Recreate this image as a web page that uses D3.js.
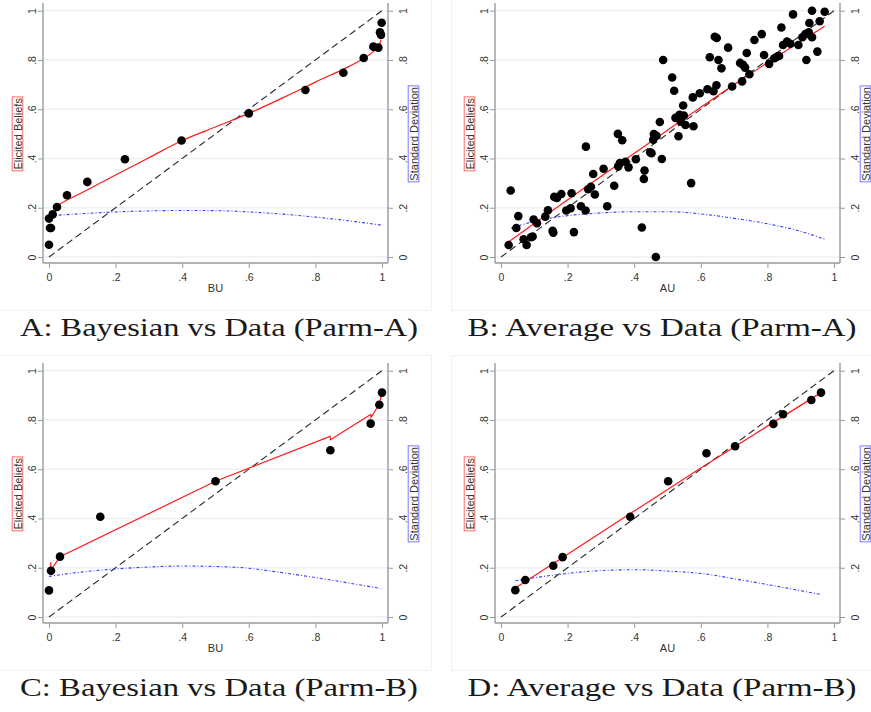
<!DOCTYPE html>
<html>
<head>
<meta charset="utf-8">
<script src="https://cdn.jsdelivr.net/npm/d3@7"></script>
<style>
  body { margin: 0; background: #fff; }
  svg text { font-family: "Liberation Sans", Arial, sans-serif; }
</style>
</head>
<body>
<svg id="chart" width="871" height="712"></svg>
<script>
var ticks = [0, 0.2, 0.4, 0.6, 0.8, 1];
var tick_labels = ['0', '.2', '.4', '.6', '.8', '1'];
var x_titles = ['BU', 'AU', 'BU', 'AU'];
var captions = ['A: Bayesian vs Data (Parm-A)', 'B: Average vs Data (Parm-A)',
                'C: Bayesian vs Data (Parm-B)', 'D: Average vs Data (Parm-B)'];
var y_title = 'Elicited Beliefs';
var y2_title = 'Standard Deviation';

// A: Bayesian vs Data (Parm-A)
var a_x = [0, 0.003, 0.006, 0, 0.011, 0.024, 0.054, 0.115, 0.228, 0.398, 0.6, 0.77, 0.884, 0.945, 0.974, 0.989, 0.994, 0.997, 0.999];
var a_y = [0.05, 0.118, 0.118, 0.156, 0.173, 0.203, 0.251, 0.305, 0.397, 0.473, 0.583, 0.678, 0.748, 0.808, 0.854, 0.85, 0.912, 0.902, 0.951];
var a_fit_x = [0.012, 0.024, 0.1, 0.2, 0.3, 0.4, 0.5, 0.6, 0.7, 0.77, 0.8, 0.9, 0.945, 0.975, 0.99, 0.997];
var a_fit_y = [0.195, 0.207, 0.262, 0.333, 0.403, 0.473, 0.528, 0.583, 0.645, 0.69, 0.71, 0.773, 0.806, 0.835, 0.855, 0.88];
var a_sd_x = [0.005, 0.1, 0.2, 0.3, 0.4, 0.5, 0.6, 0.7, 0.8, 0.9, 1.0];
var a_sd_y = [0.168, 0.176, 0.183, 0.187, 0.189, 0.188, 0.183, 0.174, 0.162, 0.147, 0.129];

// B: Average vs Data (Parm-A)
var b_x = [0.023,0.029,0.046,0.052,0.068,0.077,0.090,0.095,0.098,0.108,0.133,0.141,0.155,0.157,0.160,0.168,0.181,0.196,0.209,0.212,0.219,0.240,0.254,0.255,0.262,0.270,0.277,0.282,0.308,0.319,0.340,0.351,0.352,0.357,0.364,0.374,0.383,0.405,0.423,0.429,0.431,0.448,0.452,0.457,0.459,0.465,0.467,0.477,0.483,0.487,0.514,0.520,0.524,0.533,0.536,0.540,0.547,0.549,0.554,0.571,0.576,0.578,0.597,0.620,0.627,0.638,0.642,0.647,0.648,0.653,0.662,0.682,0.694,0.718,0.724,0.727,0.733,0.738,0.746,0.761,0.783,0.790,0.805,0.821,0.828,0.835,0.842,0.847,0.859,0.869,0.877,0.893,0.905,0.914,0.917,0.924,0.926,0.934,0.934,0.950,0.957,0.972];
var b_y = [0.049,0.270,0.118,0.166,0.072,0.049,0.080,0.083,0.152,0.137,0.164,0.190,0.106,0.099,0.244,0.240,0.256,0.189,0.198,0.259,0.101,0.206,0.189,0.448,0.275,0.285,0.337,0.254,0.358,0.206,0.289,0.500,0.368,0.381,0.474,0.387,0.364,0.397,0.120,0.317,0.351,0.425,0.421,0.476,0.499,0.000,0.492,0.548,0.398,0.800,0.729,0.675,0.565,0.490,0.577,0.549,0.615,0.574,0.536,0.300,0.648,0.531,0.665,0.681,0.811,0.673,0.894,0.697,0.889,0.800,0.766,0.850,0.692,0.788,0.713,0.780,0.769,0.828,0.742,0.881,0.905,0.820,0.784,0.807,0.813,0.816,0.932,0.861,0.875,0.866,0.985,0.861,0.892,0.905,0.800,0.912,0.950,1.000,0.892,0.834,0.957,0.996];
var b_fit_x = [0.023, 0.25, 0.5, 0.75, 0.972];
var b_fit_y = [0.062, 0.28, 0.515, 0.745, 0.937];
var b_sd_x = [0.03, 0.1, 0.2, 0.3, 0.4, 0.5, 0.6, 0.7, 0.8, 0.9, 0.972];
var b_sd_y = [0.117, 0.145, 0.168, 0.179, 0.184, 0.184, 0.175, 0.157, 0.135, 0.104, 0.072];

// C: Bayesian vs Data (Parm-B)
var c_x = [0, 0.006, 0.033, 0.154, 0.5, 0.845, 0.966, 0.992, 1.0];
var c_y = [0.108, 0.188, 0.245, 0.407, 0.551, 0.677, 0.785, 0.862, 0.911];
var c_fit_x = [0.005, 0.006, 0.033, 0.5, 0.844, 0.845, 0.966, 0.967, 0.992, 1.0];
var c_fit_y = [0.222, 0.19, 0.245, 0.551, 0.733, 0.72, 0.822, 0.81, 0.865, 0.91];
var c_sd_x = [0, 0.1, 0.2, 0.3, 0.4, 0.5, 0.6, 0.7, 0.8, 0.9, 0.995];
var c_sd_y = [0.165, 0.183, 0.195, 0.203, 0.207, 0.205, 0.198, 0.18, 0.16, 0.138, 0.116];

// D: Average vs Data (Parm-B)
var d_x = [0.043, 0.073, 0.157, 0.185, 0.388, 0.502, 0.617, 0.703, 0.818, 0.847, 0.932, 0.961];
var d_y = [0.109, 0.15, 0.208, 0.243, 0.407, 0.551, 0.665, 0.693, 0.784, 0.823, 0.881, 0.911];
var d_fit_x = [0.04, 0.2, 0.4, 0.6, 0.8, 0.96];
var d_fit_y = [0.115, 0.255, 0.43, 0.605, 0.775, 0.91];
var d_sd_x = [0.043, 0.157, 0.304, 0.404, 0.505, 0.606, 0.706, 0.807, 0.907, 0.958];
var d_sd_y = [0.147, 0.17, 0.189, 0.192, 0.186, 0.176, 0.154, 0.13, 0.105, 0.092];

var diag = [0, 1];

var panels = [
    {ox: 0,   oy: 0,   px: a_x, py: a_y, fx: a_fit_x, fy: a_fit_y, sx: a_sd_x, sy: a_sd_y, curve: d3.curveMonotoneX},
    {ox: 452, oy: 0,   px: b_x, py: b_y, fx: b_fit_x, fy: b_fit_y, sx: b_sd_x, sy: b_sd_y, curve: d3.curveMonotoneX},
    {ox: 0,   oy: 360, px: c_x, py: c_y, fx: c_fit_x, fy: c_fit_y, sx: c_sd_x, sy: c_sd_y, curve: d3.curveLinear},
    {ox: 452, oy: 360, px: d_x, py: d_y, fx: d_fit_x, fy: d_fit_y, sx: d_sd_x, sy: d_sd_y, curve: d3.curveMonotoneX}
];
var caption_x = [219, 662, 219, 662];
var caption_w = [398, 389, 398, 389];

var svg = d3.select('#chart');

// faint frames of the four graph images
svg.selectAll('rect.frame').data([[-1, -1, 432, 311], [451, -1, 421, 311], [-1, 355, 432, 315], [451, 355, 421, 315]])
    .enter().append('rect')
    .attr('class', 'frame')
    .attr('x', function (d) {return d[0] + 0.5})
    .attr('y', function (d) {return d[1] + 0.5})
    .attr('width', function (d) {return d[2]})
    .attr('height', function (d) {return d[3]})
    .attr('fill', 'none')
    .attr('stroke', '#f0f0f0');

function draw_panel(p, idx) {
    var g = svg.append('g').attr('transform', 'translate(' + p.ox + ',' + p.oy + ')');
    var xs = d3.scaleLinear().domain([0, 1]).range([49, 382]);
    var ys = d3.scaleLinear().domain([0, 1]).range([257, 10.7]);
    var ys2 = d3.scaleLinear().domain([0, 1]).range([257, 10.7]);
    var left = 43, right = 388, top = 3, bottom = 263;

    // grid
    g.selectAll('line.grid').data(ticks).enter().append('line')
        .attr('x1', left).attr('x2', right)
        .attr('y1', function (d) {return ys(d)})
        .attr('y2', function (d) {return ys(d)})
        .attr('stroke', '#eaf2f3')
        .attr('stroke-width', 1.3);

    // axes
    var axis_color = '#9a9a9a';
    var yl = g.append('g').attr('transform', 'translate(' + left + ',0)')
        .call(d3.axisLeft(ys).tickValues(ticks).tickFormat(function (d, i) {return tick_labels[i]}).tickSize(5).tickSizeOuter(0));
    var yr = g.append('g').attr('transform', 'translate(' + right + ',0)')
        .call(d3.axisRight(ys2).tickValues(ticks).tickFormat(function (d, i) {return tick_labels[i]}).tickSize(5).tickSizeOuter(0));
    var xb = g.append('g').attr('transform', 'translate(0,' + bottom + ')')
        .call(d3.axisBottom(xs).tickValues(ticks).tickFormat(function (d, i) {return tick_labels[i]}).tickSize(5).tickSizeOuter(0));
    [yl, yr, xb].forEach(function (a) {
        a.select('.domain').remove();
        a.selectAll('line').attr('stroke', axis_color);
        a.selectAll('text').attr('fill', '#333').style('font-size', '10.5px');
    });
    yl.selectAll('text').attr('x', 0).attr('dy', 0).attr('y', -7)
        .attr('text-anchor', 'middle').attr('transform', 'rotate(-90)');
    yr.selectAll('text').attr('x', 0).attr('dy', 0).attr('y', 19)
        .attr('text-anchor', 'middle').attr('transform', 'rotate(-90)');
    xb.selectAll('text').attr('y', 11);

    g.append('line').attr('x1', left).attr('x2', left).attr('y1', top).attr('y2', bottom)
        .attr('stroke', axis_color).attr('stroke-width', 1.4);
    g.append('line').attr('x1', right).attr('x2', right).attr('y1', top).attr('y2', bottom)
        .attr('stroke', axis_color).attr('stroke-width', 1.4);
    g.append('line').attr('x1', left).attr('x2', right).attr('y1', bottom).attr('y2', bottom)
        .attr('stroke', axis_color).attr('stroke-width', 1.4);

    // axis titles
    g.append('text').attr('x', (xs(0) + xs(1)) / 2).attr('y', 291.5)
        .attr('text-anchor', 'middle').attr('fill', '#333').style('font-size', '11px')
        .text(x_titles[idx]);

    [[17.5, y_title, '#ff6a6a'], [413.5, y2_title, '#7a7aff']].forEach(function (t) {
        var tg = g.append('g').attr('transform', 'translate(' + t[0] + ',' + ys(0.5) + ') rotate(-90)');
        var tx = tg.append('text').attr('x', 0).attr('y', 4)
            .attr('text-anchor', 'middle').attr('fill', '#333').style('font-size', '11px')
            .text(t[1]);
        var w = tx.node().getComputedTextLength();
        tg.insert('rect', 'text')
            .attr('x', -w / 2 - 1.2).attr('y', -5.3)
            .attr('width', w + 2.4).attr('height', 10.6)
            .attr('fill', '#fff').attr('stroke', t[2]).attr('stroke-width', 1);
    });

    // 45 degree line
    g.append('path').datum(diag)
        .attr('d', d3.line().x(function (d) {return xs(d)}).y(function (d) {return ys(d)}))
        .attr('fill', 'none').attr('stroke', '#262626').attr('stroke-width', 1.1)
        .attr('stroke-dasharray', '7,4');

    // fitted beliefs (red)
    g.append('path').datum(d3.range(p.fx.length))
        .attr('d', d3.line().curve(p.curve)
            .x(function (i) {return xs(p.fx[i])}).y(function (i) {return ys(p.fy[i])}))
        .attr('fill', 'none').attr('stroke', '#ff1a1a').attr('stroke-width', 1.2);

    // standard deviation (blue, right axis)
    g.append('path').datum(d3.range(p.sx.length))
        .attr('d', d3.line().curve(d3.curveMonotoneX)
            .x(function (i) {return xs(p.sx[i])}).y(function (i) {return ys2(p.sy[i])}))
        .attr('fill', 'none').attr('stroke', '#3b3bff').attr('stroke-width', 1.1)
        .attr('stroke-dasharray', '3,2,1,2');

    // data points
    g.selectAll('circle').data(d3.range(p.px.length)).enter().append('circle')
        .attr('cx', function (i) {return xs(p.px[i])})
        .attr('cy', function (i) {return ys(p.py[i])})
        .attr('r', 4.3)
        .attr('fill', '#000');

    // caption
    svg.append('text')
        .attr('x', caption_x[idx])
        .attr('y', p.oy + 336)
        .attr('text-anchor', 'middle')
        .attr('textLength', caption_w[idx])
        .attr('lengthAdjust', 'spacingAndGlyphs')
        .style('font-family', '"Liberation Serif", "Times New Roman", serif')
        .style('font-size', '26px')
        .attr('fill', '#1a1a1a')
        .text(captions[idx]);
}

panels.forEach(draw_panel);
</script>
</body>
</html>
